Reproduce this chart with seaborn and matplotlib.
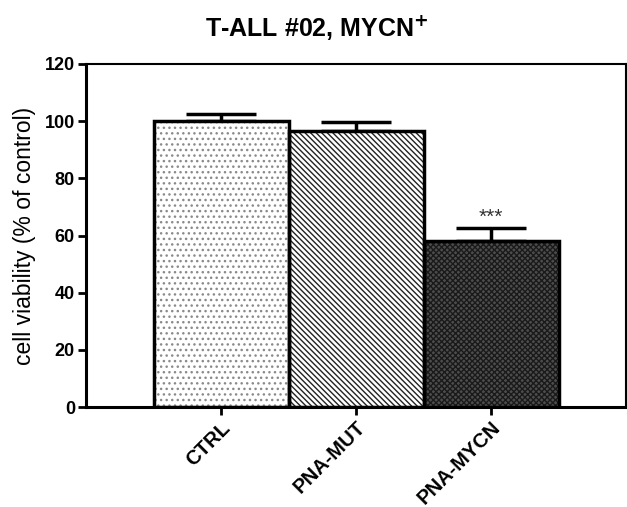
import matplotlib
matplotlib.use("Agg")
import matplotlib.pyplot as plt
import seaborn as sns
import numpy as np
import pandas as pd

categories = ["CTRL", "PNA-MUT", "PNA-MYCN"]
values = [100.0, 96.5, 58.0]
errors = [2.5, 3.2, 4.6]
yticks = [0, 20, 40, 60, 80, 100, 120]
title = "T-ALL #02, MYCN"
ylabel = "cell viability (% of control)"
signif = ["", "", "***"]

sns.set_theme(style="white")
plt.rcParams["font.family"] = ["Liberation Sans", "DejaVu Sans"]
plt.rcParams["hatch.linewidth"] = 1.0
for k in ["text.color", "axes.labelcolor", "xtick.color", "ytick.color"]:
    plt.rcParams[k] = "black"

df = pd.DataFrame({"cat": categories, "val": values})

fig = plt.figure(figsize=(6.27, 5.07), dpi=100)
ax = fig.add_axes([86/627, 1-407/507, (626-86)/627, (407-64)/507])

face = ["white", "white", "#4d4d4d"]
hatchcol = ["#8a8a8a", "#222222", "#1a1a1a"]
hatches = ["...", "\\\\\\\\\\\\", "xxxxxx"]

# base hatched bars
sns.barplot(data=df, x="cat", y="val", ax=ax, width=1.0, errorbar=None,
            color="white", linewidth=0, zorder=2)
for p, fc, hc, h in zip(ax.patches, face, hatchcol, hatches):
    p.set_facecolor(fc)
    p.set_edgecolor(hc)
    p.set_hatch(h)
    p.set_linewidth(0)

# outlines
sns.barplot(data=df, x="cat", y="val", ax=ax, width=1.0, errorbar=None,
            fill=False, edgecolor="black", linewidth=2.5, zorder=3)

x = np.arange(len(categories))
ax.errorbar(x, values, yerr=[np.zeros(len(values)), errors], fmt="none",
            ecolor="black", elinewidth=2.5, capsize=25, capthick=2.5, zorder=1)

for xi, v, e, s in zip(x, values, errors, signif):
    if s:
        ax.text(xi, v + e + 0.6, s, ha="center", va="bottom", fontsize=15,
                color="#333333")

ax.set_xlim(-1, 3)
ax.set_ylim(0, 120)
ax.set_yticks(yticks)
ax.set_yticklabels([str(t) for t in yticks], fontsize=13, fontweight="bold")
ax.set_xticks(x)
ax.set_xticklabels(categories, fontsize=14.5, fontweight="bold", rotation=45,
                   ha="right", rotation_mode="anchor")
ax.set_xlabel("")
ax.set_ylabel(ylabel, fontsize=16.5, labelpad=6)

for side in ["left", "bottom"]:
    ax.spines[side].set_linewidth(2.2)
    ax.spines[side].set_color("black")
for side in ["top", "right"]:
    ax.spines[side].set_linewidth(1.5)
    ax.spines[side].set_color("black")
    ax.spines[side].set_visible(True)

ax.tick_params(axis="both", which="both", direction="out", length=6, width=2,
               color="black", left=True, bottom=True, pad=2)

fig.text(317/627, 1-27/507, title + r"$^{\mathbf{+}}$", ha="center", va="center",
         fontsize=18, fontweight="bold")

fig.savefig("out.png", dpi=100, facecolor="white")
